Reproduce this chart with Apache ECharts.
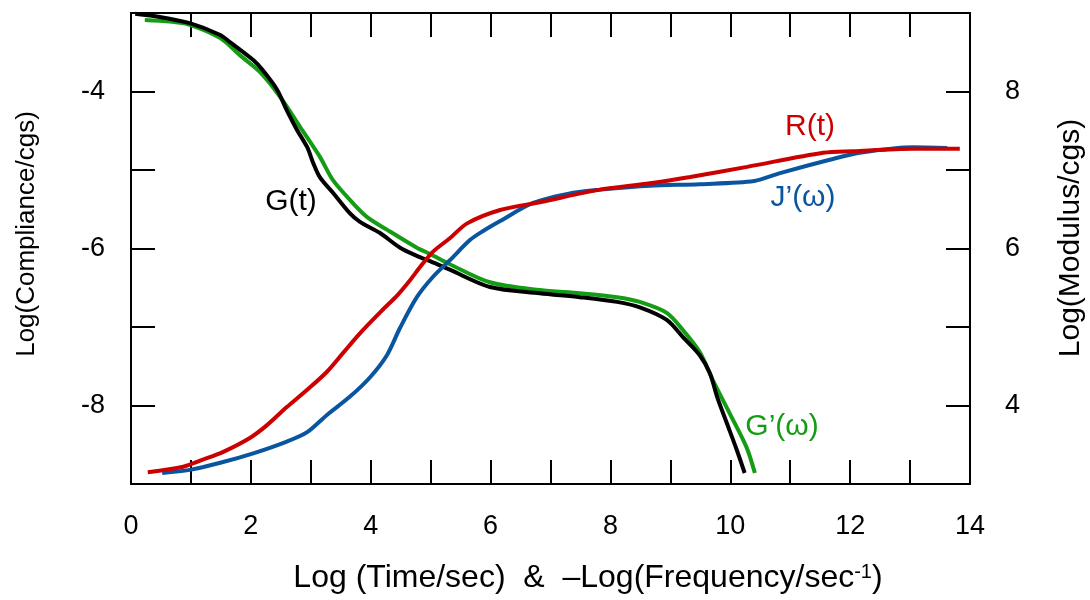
<!DOCTYPE html>
<html>
<head>
<meta charset="utf-8">
<script src="https://cdn.jsdelivr.net/npm/echarts@6/dist/echarts.min.js"></script>
<style>
  html, body { margin: 0; padding: 0; background: #fff; }
  #chart { width: 1090px; height: 600px; }
</style>
</head>
<body>
<div id="chart"></div>
<script>
// G(t) - relaxation modulus, right axis
const gTimeX = [0.07, 0.48, 0.98, 1.49, 1.65, 2.04, 2.2, 2.44, 2.6, 2.77, 2.94, 3.04, 3.15, 3.37, 3.65, 3.82, 4.15, 4.49, 4.82, 4.99, 5.32, 5.99, 6.82, 7.49, 8.11, 8.49, 8.94, 9.21, 9.49, 9.66, 9.78, 9.94, 10.11, 10.24];
const gTimeY = [8.99, 8.95, 8.87, 8.72, 8.63, 8.4, 8.27, 8.02, 7.76, 7.51, 7.29, 7.09, 6.91, 6.71, 6.45, 6.34, 6.2, 6.01, 5.89, 5.84, 5.73, 5.51, 5.43, 5.38, 5.32, 5.25, 5.09, 4.87, 4.64, 4.41, 4.11, 3.78, 3.43, 3.14];
// G'(w) - storage modulus, right axis
const gFreqX = [0.23, 0.65, 0.98, 1.49, 1.82, 2.15, 2.49, 2.82, 3.15, 3.37, 3.7, 3.94, 4.27, 4.77, 4.99, 5.32, 5.99, 6.82, 7.49, 8.11, 8.49, 8.94, 9.21, 9.49, 9.71, 9.99, 10.27, 10.41];
const gFreqY = [8.91, 8.89, 8.85, 8.68, 8.46, 8.25, 7.93, 7.55, 7.17, 6.87, 6.58, 6.4, 6.24, 6.01, 5.93, 5.8, 5.57, 5.47, 5.43, 5.38, 5.32, 5.18, 4.96, 4.68, 4.32, 3.9, 3.47, 3.14];
// R(t) - creep compliance, left axis
const rTimeX = [0.28, 0.87, 1.2, 1.54, 1.99, 2.27, 2.6, 2.94, 3.27, 3.55, 3.82, 4.2, 4.44, 4.66, 4.82, 5.04, 5.32, 5.61, 6.16, 6.82, 7.83, 8.66, 9.33, 10.28, 11.55, 12.05, 13.05, 13.83];
const rTimeY = [-8.85, -8.78, -8.69, -8.59, -8.41, -8.25, -8.02, -7.8, -7.57, -7.32, -7.08, -6.78, -6.6, -6.4, -6.24, -6.04, -5.87, -5.68, -5.51, -5.41, -5.25, -5.17, -5.09, -4.96, -4.78, -4.76, -4.73, -4.73];
// J'(w) - storage compliance, left axis
const jFreqX = [0.52, 0.98, 1.49, 2.04, 2.6, 2.94, 3.27, 3.65, 3.99, 4.27, 4.49, 4.77, 5.04, 5.32, 5.66, 5.87, 6.16, 6.71, 7.38, 7.83, 8.66, 9.49, 10.4, 10.83, 11.66, 12.16, 13.05, 13.62];
const jFreqY = [-8.86, -8.82, -8.73, -8.61, -8.46, -8.34, -8.12, -7.89, -7.64, -7.36, -7.01, -6.62, -6.36, -6.15, -5.89, -5.78, -5.65, -5.42, -5.29, -5.25, -5.2, -5.18, -5.14, -5.04, -4.87, -4.78, -4.71, -4.72];

const xTicks = [0, 14, 1];
const leftTicks = [-9, -3, 1];
const rightTicks = [3, 9, 1];

function pairs(xs, ys) {
  return xs.map((x, i) => [x, ys[i]]);
}

const font = "Liberation Sans, Arial, sans-serif";
const evenOnly = v => (Math.round(v) % 2 === 0 ? String(v) : "");

let chart = echarts.init(document.getElementById("chart"));

function frameAxis(extra) {
  return Object.assign({
    type: "value",
    axisLine: { show: true, onZero: false, lineStyle: { color: "#000", width: 2 } },
    axisTick: { show: true, inside: true, length: 24, lineStyle: { color: "#000", width: 2 } },
    splitLine: { show: false },
    axisLabel: { color: "#000", fontSize: 27, fontFamily: font, formatter: evenOnly }
  }, extra);
}

let option = {
  animation: false,
  backgroundColor: "#fff",
  grid: { left: 131, right: 120, top: 13, bottom: 116 },
  xAxis: [
    frameAxis({ min: xTicks[0], max: xTicks[1], interval: xTicks[2], position: "bottom",
      axisLabel: { color: "#000", fontSize: 27, fontFamily: font, margin: 29, formatter: evenOnly } }),
    frameAxis({ min: xTicks[0], max: xTicks[1], interval: xTicks[2], position: "top",
      axisLabel: { show: false } })
  ],
  yAxis: [
    frameAxis({ min: leftTicks[0], max: leftTicks[1], interval: leftTicks[2], position: "left",
      axisLabel: { color: "#000", fontSize: 27, fontFamily: font, margin: 26, formatter: evenOnly } }),
    frameAxis({ min: rightTicks[0], max: rightTicks[1], interval: rightTicks[2], position: "right",
      axisLabel: { color: "#000", fontSize: 27, fontFamily: font, margin: 35, formatter: evenOnly } })
  ],
  series: [
    {
      name: "G'(ω)", type: "line", yAxisIndex: 1, smooth: 0.3, showSymbol: false,
      lineStyle: { color: "#149c14", width: 4 }, data: pairs(gFreqX, gFreqY)
    },
    {
      name: "G(t)", type: "line", yAxisIndex: 1, smooth: 0.3, showSymbol: false,
      lineStyle: { color: "#000", width: 4 }, data: pairs(gTimeX, gTimeY)
    },
    {
      name: "J'(ω)", type: "line", yAxisIndex: 0, smooth: 0.3, showSymbol: false,
      lineStyle: { color: "#0a55a0", width: 4 }, data: pairs(jFreqX, jFreqY)
    },
    {
      name: "R(t)", type: "line", yAxisIndex: 0, smooth: 0.3, showSymbol: false,
      lineStyle: { color: "#cc0000", width: 4 }, data: pairs(rTimeX, rTimeY)
    }
  ],
  graphic: [
    { type: "text", x: 291, y: 202, style: { text: "G(t)", fill: "#000", font: "30px " + font, textAlign: "center", textVerticalAlign: "middle" } },
    { type: "text", x: 810, y: 127, style: { text: "R(t)", fill: "#cc0000", font: "30px " + font, textAlign: "center", textVerticalAlign: "middle" } },
    { type: "text", x: 803, y: 198, style: { text: "J’(ω)", fill: "#0a55a0", font: "30px " + font, textAlign: "center", textVerticalAlign: "middle" } },
    { type: "text", x: 782, y: 427, style: { text: "G’(ω)", fill: "#149c14", font: "30px " + font, textAlign: "center", textVerticalAlign: "middle" } },
    { type: "text", x: 27, y: 234, rotation: Math.PI / 2, style: { text: "Log(Compliance/cgs)", fill: "#000", font: "26px " + font, textAlign: "center", textVerticalAlign: "middle" } },
    { type: "text", x: 1071, y: 238, rotation: Math.PI / 2, style: { text: "Log(Modulus/cgs)", fill: "#000", font: "30px " + font, textAlign: "center", textVerticalAlign: "middle" } },
    {
      type: "text", x: 588, y: 578,
      style: {
        text: "{a|Log (Time/sec)  &  –Log(Frequency/sec}{b|-1}{a|)}",
        textAlign: "center", textVerticalAlign: "middle",
        rich: {
          a: { fontSize: 32, fontFamily: font, fill: "#000", color: "#000" },
          b: { fontSize: 20, fontFamily: font, fill: "#000", color: "#000", verticalAlign: "top", padding: [0, 0, 10, 0] }
        }
      }
    }
  ]
};
chart.setOption(option);
</script>
</body>
</html>
